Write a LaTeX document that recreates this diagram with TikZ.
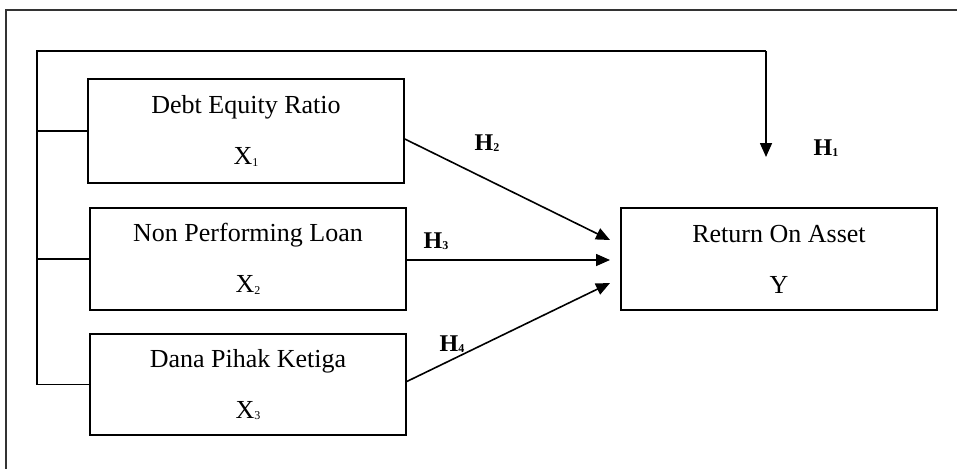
\documentclass[tikz,border=0pt]{standalone}
\usepackage{fontspec}
\setmainfont{Liberation Serif}
\usetikzlibrary{arrows.meta}
\newcommand{\tinysub}[1]{\raisebox{-1.5pt}{\fontsize{12}{12}\selectfont #1}}
\begin{document}
\begin{tikzpicture}[x=1pt,y=-1pt,
  line width=1.6pt,
  varbox/.style={draw, line width=1.6pt, minimum width=316pt, align=center, font=\fontsize{26}{51}\selectfont, inner sep=0pt},
  hlab/.style={font=\fontsize{24}{26}\selectfont\bfseries, inner sep=0pt},
  arr/.style={-{Triangle[length=14pt,width=12pt]}}
]
\useasboundingbox (0,0) rectangle (957,468);
% outer frame (partly visible)
\draw[line width=1.4pt, black!80] (6,470) -- (6,10) -- (960,10);

\node[varbox, minimum height=104pt] (x1) at (246,131) {Debt Equity Ratio\\X\tinysub{1}};
\node[varbox, minimum height=102pt] (x2) at (248,259) {Non Performing Loan\\X\tinysub{2}};
\node[varbox, minimum height=101pt] (x3) at (248,384.5) {Dana Pihak Ketiga\\X\tinysub{3}};
\node[varbox, minimum height=102pt] (y) at (779,259) {Return On Asset\\Y};

% bracket joining the independent variables
\coordinate (tl) at (37,51);
\coordinate (tr) at (766,51);
\coordinate (h1end) at (766,157);
\draw (x3.west) -- (37,384.5) -- (tl) -- (tr);
\draw (x1.west) -- (37,131);
\draw (x2.west) -- (37,259);
\draw[arr] (tr) -- (h1end);

% hypothesis arrows
\coordinate (t2) at (610,240);
\coordinate (t3) at (610,260);
\coordinate (t4) at (610,283);
\draw[arr] ([yshift=-8pt]x1.east) -- (t2);
\draw[arr] (x2.east |- t3) -- (t3);
\draw[arr] ([yshift=3pt]x3.east) -- (t4);

\node[hlab] (h1) at (826,148) {H\tinysub{1}};
\node[hlab] (h2) at (487,143) {H\tinysub{2}};
\node[hlab] (h3) at (436,241) {H\tinysub{3}};
\node[hlab] (h4) at (452,344) {H\tinysub{4}};
\end{tikzpicture}
\end{document}
